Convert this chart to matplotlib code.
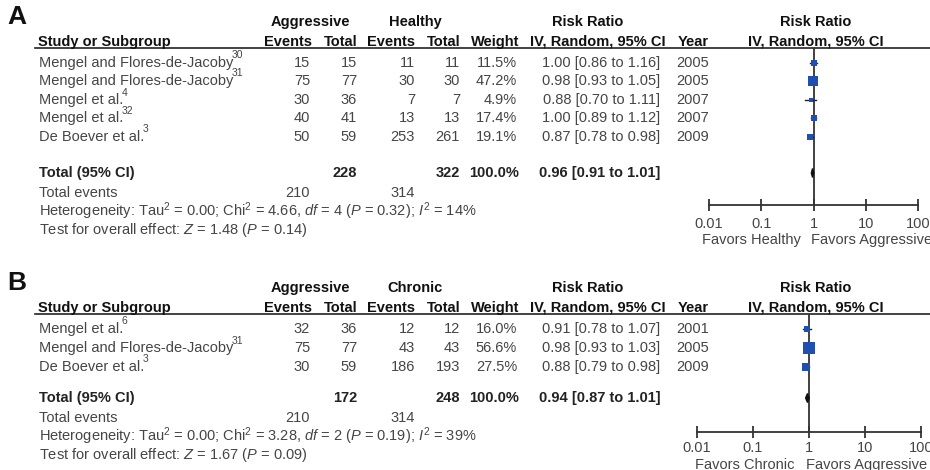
import matplotlib
matplotlib.use("Agg")
import matplotlib.pyplot as plt
import numpy as np

plt.rcParams['font.family'] = ['Liberation Sans', 'DejaVu Sans']
plt.rcParams['mathtext.fontset'] = 'custom'
plt.rcParams['mathtext.rm'] = 'Liberation Sans'
plt.rcParams['mathtext.it'] = 'Liberation Sans:italic'
plt.rcParams['mathtext.bf'] = 'Liberation Sans:bold'

# ---------------- data ----------------
# Panel A: Aggressive vs Healthy
a_studies = ["Mengel and Flores-de-Jacoby", "Mengel and Flores-de-Jacoby",
             "Mengel et al.", "Mengel et al.", "De Boever et al."]
a_refs = ["30", "31", "4", "32", "3"]
a_ev1 = [15, 75, 30, 40, 50]
a_tot1 = [15, 77, 36, 41, 59]
a_ev2 = [11, 30, 7, 13, 253]
a_tot2 = [11, 30, 7, 13, 261]
a_weight = [11.5, 47.2, 4.9, 17.4, 19.1]
a_rr = [1.00, 0.98, 0.88, 1.00, 0.87]
a_lo = [0.86, 0.93, 0.70, 0.89, 0.78]
a_hi = [1.16, 1.05, 1.11, 1.12, 0.98]
a_year = [2005, 2005, 2007, 2007, 2009]
a_total = dict(tot1=228, tot2=322, ev1=210, ev2=314, rr=0.96, lo=0.91, hi=1.01)
a_het = "Heterogeneity: Tau$^2$ = 0.00; Chi$^2$ = 4.66, $df$ = 4 ($P$ = 0.32); $I^2$ = 14%"
a_test = "Test for overall effect: $Z$ = 1.48 ($P$ = 0.14)"

# Panel B: Aggressive vs Chronic
b_studies = ["Mengel et al.", "Mengel and Flores-de-Jacoby", "De Boever et al."]
b_refs = ["6", "31", "3"]
b_ev1 = [32, 75, 30]
b_tot1 = [36, 77, 59]
b_ev2 = [12, 43, 186]
b_tot2 = [12, 43, 193]
b_weight = [16.0, 56.6, 27.5]
b_rr = [0.91, 0.98, 0.88]
b_lo = [0.78, 0.93, 0.79]
b_hi = [1.07, 1.03, 0.98]
b_year = [2001, 2005, 2009]
b_total = dict(tot1=172, tot2=248, ev1=210, ev2=314, rr=0.94, lo=0.87, hi=1.01)
b_het = "Heterogeneity: Tau$^2$ = 0.00; Chi$^2$ = 3.28, $df$ = 2 ($P$ = 0.19); $I^2$ = 39%"
b_test = "Test for overall effect: $Z$ = 1.67 ($P$ = 0.09)"

ticks = [0.01, 0.1, 1, 10, 100]
tick_labels = ["0.01", "0.1", "1", "10", "100"]

# ---------------- drawing ----------------
W, H = 930, 470
fig = plt.figure(figsize=(W / 100, H / 100), dpi=100)
base = fig.add_axes([0, 0, 1, 1])
base.set_xlim(0, W)
base.set_ylim(H, 0)
base.axis('off')
renderer = fig.canvas.get_renderer()

FS = 10.5
TXT = '#454545'
HDR = '#111111'
BLUE = '#1f4fb0'


def panel(label, grp2, studies, refs, ev1, tot1, ev2, tot2, weight, rr, lo, hi, year, total,
          het, test, y0, rows_y, total_y, axis_y, fx0, fx1, favors_left, tick_pad):
    # panel letter
    base.text(7, y0 - 2, label, fontsize=19, fontweight='bold', ha='left', va='center', color='#111')
    # header row 1
    hy1 = y0 + 3
    hy2 = y0 + 23
    base.text(310, hy1, "Aggressive", fontsize=FS, fontweight='bold', ha='center', va='center', color=HDR)
    base.text(415, hy1, grp2, fontsize=FS, fontweight='bold', ha='center', va='center', color=HDR)
    base.text(588, hy1, "Risk Ratio", fontsize=FS, fontweight='bold', ha='center', va='center', color=HDR)
    base.text(816, hy1, "Risk Ratio", fontsize=FS, fontweight='bold', ha='center', va='center', color=HDR)
    # header row 2
    hdr = [(38, "Study or Subgroup", 'left'), (312, "Events", 'right'), (357, "Total", 'right'),
           (415, "Events", 'right'), (460, "Total", 'right'), (519, "Weight", 'right'),
           (598, "IV, Random, 95% CI", 'center'), (678, "Year", 'left'), (816, "IV, Random, 95% CI", 'center')]
    for x, s, ha in hdr:
        base.text(x, hy2, s, fontsize=FS, fontweight='bold', ha=ha, va='center', color=HDR)
    line_y = hy2 + 6
    base.plot([35, W], [line_y, line_y], color='#222', lw=1.2)

    # study rows
    for i, y in enumerate(rows_y):
        t = base.text(39, y, studies[i], fontsize=FS, ha='left', va='center', color=TXT)
        bb = t.get_window_extent(renderer=renderer)
        xr = bb.x1  # pixel (figure) coords; base axes maps 1:1 in x
        base.text(xr - 1.5, y - 7.5, refs[i], fontsize=7.5, ha='left', va='center', color=TXT)
        base.text(310, y, f"{ev1[i]}", fontsize=FS, ha='right', va='center', color=TXT)
        base.text(357, y, f"{tot1[i]}", fontsize=FS, ha='right', va='center', color=TXT)
        base.text(415, y, f"{ev2[i]}", fontsize=FS, ha='right', va='center', color=TXT)
        base.text(460, y, f"{tot2[i]}", fontsize=FS, ha='right', va='center', color=TXT)
        base.text(517, y, f"{weight[i]:.1f}%", fontsize=FS, ha='right', va='center', color=TXT)
        base.text(601, y, f"{rr[i]:.2f} [{lo[i]:.2f} to {hi[i]:.2f}]", fontsize=FS, ha='center',
                  va='center', color=TXT)
        base.text(676, y, f"{year[i]}", fontsize=FS, ha='left', va='center', color=TXT)

    # total row
    base.text(39, total_y, "Total (95% CI)", fontsize=FS, fontweight='bold', ha='left', va='center', color='#222')
    base.text(357, total_y, f"{total['tot1']}", fontsize=FS, fontweight='bold', ha='right', va='center', color='#222')
    base.text(460, total_y, f"{total['tot2']}", fontsize=FS, fontweight='bold', ha='right', va='center', color='#222')
    base.text(519, total_y, "100.0%", fontsize=FS, fontweight='bold', ha='right', va='center', color='#222')
    base.text(600, total_y, f"{total['rr']:.2f} [{total['lo']:.2f} to {total['hi']:.2f}]", fontsize=FS,
              fontweight='bold', ha='center', va='center', color='#222')

    ty = total_y + 20
    base.text(39, ty, "Total events", fontsize=FS, ha='left', va='center', color=TXT)
    base.text(310, ty, f"{total['ev1']}", fontsize=FS, ha='right', va='center', color=TXT)
    base.text(415, ty, f"{total['ev2']}", fontsize=FS, ha='right', va='center', color=TXT)
    base.text(39, ty + 18.5, het, fontsize=FS, ha='left', va='center', color=TXT)
    base.text(39, ty + 37, test, fontsize=FS, ha='left', va='center', color=TXT)

    # forest plot axes (pixel layout -> figure fraction)
    top = line_y
    ax = fig.add_axes([fx0 / W, 1 - axis_y / H, (fx1 - fx0) / W, (axis_y - top) / H])
    ax.set_xscale('log')
    ax.set_xlim(ticks[0], ticks[-1])
    ax.set_ylim(axis_y, top)
    for s in ['top', 'left', 'right']:
        ax.spines[s].set_visible(False)
    ax.spines['bottom'].set_color('#333')
    ax.spines['bottom'].set_linewidth(1.3)
    ax.patch.set_alpha(0)
    ax.set_yticks([])
    ax.set_xticks(ticks)
    ax.set_xticklabels(tick_labels)
    ax.minorticks_off()
    ax.tick_params(axis='x', direction='inout', length=9, width=1.3, color='#333',
                   labelsize=FS, labelcolor=TXT, pad=tick_pad)
    ax.axvline(1, color='#333', lw=1.3, zorder=1)
    for i, y in enumerate(rows_y):
        ax.plot([lo[i], hi[i]], [y, y], color='#222', lw=1.0, zorder=2)
        side_px = 1.55 * np.sqrt(weight[i])
        ax.plot([rr[i]], [y], marker='s', ms=side_px * 0.72, color=BLUE, mec=BLUE, mew=0, zorder=3)
    # diamond
    dh = 4.5
    ax.fill([total['lo'], total['rr'], total['hi'], total['rr']],
            [total_y, total_y - dh, total_y, total_y + dh], color='#111', zorder=3)
    # favors labels
    fy = axis_y + 35 - (4 - tick_pad)
    base.text(favors_left[0], fy, favors_left[1], fontsize=FS, ha='right', va='center', color=TXT)
    base.text(favors_left[2], fy, "Favors Aggressive", fontsize=FS, ha='left', va='center', color=TXT,
              clip_on=False)


panel("A", "Healthy", a_studies, a_refs, a_ev1, a_tot1, a_ev2, a_tot2, a_weight, a_rr, a_lo, a_hi, a_year,
      a_total, a_het, a_test, y0=19, rows_y=[63, 81, 100, 118, 137], total_y=173, axis_y=205,
      fx0=709, fx1=918, favors_left=(801, "Favors Healthy", 811), tick_pad=4)
panel("B", "Chronic", b_studies, b_refs, b_ev1, b_tot1, b_ev2, b_tot2, b_weight, b_rr, b_lo, b_hi, b_year,
      b_total, b_het, b_test, y0=285, rows_y=[329, 348, 367], total_y=398, axis_y=432,
      fx0=697, fx1=921, favors_left=(794, "Favors Chronic", 806), tick_pad=2)

fig.savefig("out.png", dpi=100)
